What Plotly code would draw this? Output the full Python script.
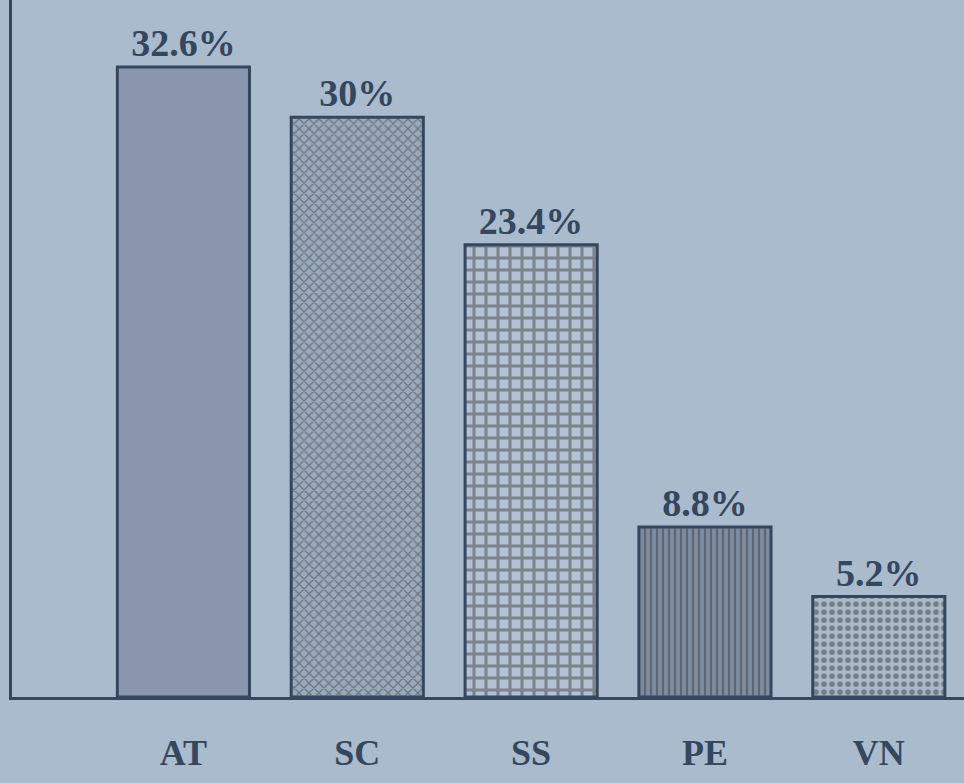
import plotly.graph_objects as go

categories = ["AT", "SC", "SS", "PE", "VN"]
shares = [32.6, 30, 23.4, 8.8, 5.2]
value_labels = ["32.6%", "30%", "23.4%", "8.8%", "5.2%"]

ink = "#34475f"
paper = "#a9bbcc"

fill_colors = ["#8a95ae", "#9aaabe", "#b3c2d2", "#7d8ba1", "#a8b9ca"]
pattern_shapes = ["", "x", "+", "|", "."]
pattern_fg = ["#8a95ae", "#55677f", "#34475f", "#4f5f76", "#6b7d94"]
pattern_sizes = [10, 7, 12, 6, 8]
pattern_solidity = [0.3, 0.35, 0.45, 0.35, 0.4]

fig = go.Figure(
    go.Bar(
        x=categories,
        y=shares,
        text=value_labels,
        textposition="outside",
        cliponaxis=False,
        width=0.76,
        marker=dict(
            color=fill_colors,
            line=dict(color=ink, width=3),
            pattern=dict(
                shape=pattern_shapes,
                fgcolor=pattern_fg,
                bgcolor=fill_colors,
                size=pattern_sizes,
                solidity=pattern_solidity,
                fillmode="overlay",
            ),
        ),
        textfont=dict(family="Liberation Serif", size=38, color=ink, weight="bold"),
    )
)

fig.update_layout(
    width=964,
    height=783,
    margin=dict(l=12, r=0, t=0, b=86),
    paper_bgcolor=paper,
    plot_bgcolor=paper,
    showlegend=False,
)

fig.update_xaxes(
    range=[-0.986, 4.49],
    showline=True,
    linecolor=ink,
    linewidth=3,
    showgrid=False,
    ticks="",
    tickfont=dict(family="Liberation Serif", size=36, color=ink, weight="bold"),
    ticklabelstandoff=22,
)
fig.update_yaxes(
    range=[0, 36.07],
    showline=True,
    linecolor=ink,
    linewidth=3,
    showgrid=False,
    zeroline=False,
    showticklabels=False,
    ticks="",
)

fig.write_html("out.html")
